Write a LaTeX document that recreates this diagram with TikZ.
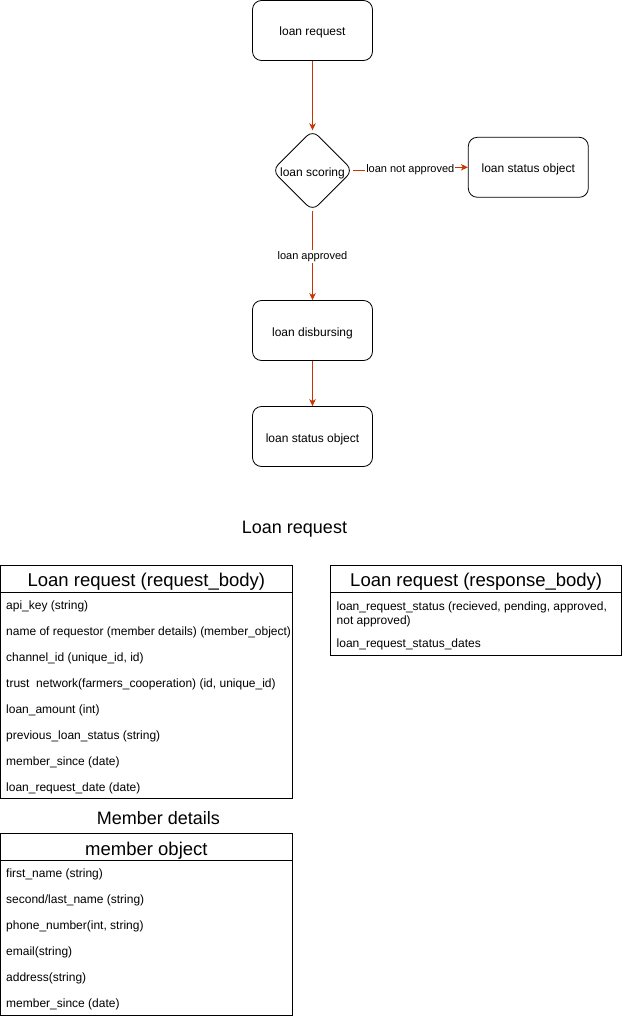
\documentclass[tikz,border=0pt]{standalone}
\usepackage{fontspec}
\setmainfont{Liberation Sans}
\usetikzlibrary{arrows.meta,calc}
\definecolor{arrc}{RGB}{199,53,0}
\begin{document}
\begin{tikzpicture}[x=1pt,y=-1pt,
  flow/.style={draw, rounded corners=9pt, minimum width=120pt, minimum height=60pt, inner sep=0pt, font=\fontsize{12}{14}\selectfont, text height=12pt, text depth=1pt, line width=0.8pt},
  arr/.style={draw=arrc, line width=0.9pt, -{Stealth[length=7pt,width=6.5pt,inset=2pt]}},
  elbl/.style={fill=white, inner sep=1pt, font=\fontsize{11}{13}\selectfont},
  row/.style={anchor=west, inner sep=0pt, font=\fontsize{12}{14}\selectfont, text height=10pt, text depth=1.5pt},
  hdr/.style={inner sep=0pt, font=\fontsize{18.5}{22}\selectfont},
  ttl/.style={inner sep=0pt, font=\fontsize{18}{22}\selectfont},
  tbl/.style={draw, line width=0.8pt}]
\useasboundingbox (0,0) rectangle (623,1019);

% flow chart
\node[flow] (req) at (312.5,30.5) {loan request};
\node[minimum width=80pt, minimum height=80pt, inner sep=0pt, font=\fontsize{12}{14}\selectfont, text height=12pt, text depth=1pt] (dia) at (312.5,170.5) {loan scoring};
\draw[line width=0.8pt, rounded corners=8pt] (dia.north) -- (dia.east) -- (dia.south) -- (dia.west) -- cycle;
\node[flow] (sR) at (528.3,167.3) {loan status object};
\node[flow] (disb) at (312.5,330.5) {loan disbursing};
\node[flow] (sB) at (312.5,436.5) {loan status object};

\draw[arr] (req) -- (dia.north);
\coordinate (jx) at (410,0);
\draw[arr] (dia.east) -- (jx |- dia.east) -- (jx |- sR.west) -- (sR.west);
\node[elbl] (lna) at (410.3,169.5) {loan not approved};
\draw[arr] (dia.south) -- (disb.north);
\node[elbl] (la) at (312.5,256.5) {loan approved};
\draw[arr] (disb) -- (sB);

% title
\node[ttl] (t1) at (294.5,529) {Loan request};

% table 1
\draw[tbl] (0.5,565.7) rectangle (292.3,798.5);
\draw[tbl] (0.5,592) -- (292.3,592);
\node[hdr] (h1) at (146.4,581.5) {Loan request (request\_body)};
\begin{scope}
\clip (0.5,592) rectangle (290.5,798.5);
\node[row] (r1) at (6,605) {api\_key (string)};
\node[row] (r2) at (6,631) {name of requestor (member details) (member\_object)};
\node[row] (r3) at (6,657) {channel\_id (unique\_id, id)};
\node[row] (r4) at (6,683) {trust\ \ network(farmers\_cooperation) (id, unique\_id)};
\node[row] (r5) at (6,709) {loan\_amount (int)};
\node[row] (r6) at (6,735) {previous\_loan\_status (string)};
\node[row] (r7) at (6,761) {member\_since (date)};
\node[row] (r8) at (6,787) {loan\_request\_date (date)};
\end{scope}

% table 2
\draw[tbl] (330.7,565.7) rectangle (621.7,655.7);
\draw[tbl] (330.7,592) -- (621.7,592);
\node[hdr] (h2) at (476.2,581.5) {Loan request (response\_body)};
\node[row] (s1) at (336.5,606.5) {loan\_request\_status (recieved, pending, approved,};
\node[row] (s1b) at (336.5,620.5) {not approved)};
\node[row] (s2) at (336.5,643.5) {loan\_request\_status\_dates};

% member details
\node[ttl] (t2) at (158.5,818.5) {Member details};
\draw[tbl] (0.5,833.3) rectangle (292.3,1015.5);
\draw[tbl] (0.5,860) -- (292.3,860);
\node[hdr] (h3) at (146.4,850.5) {member object};
\node[row] (m1) at (6,873) {first\_name (string)};
\node[row] (m2) at (6,899) {second/last\_name (string)};
\node[row] (m3) at (6,925) {phone\_number(int, string)};
\node[row] (m4) at (6,951) {email(string)};
\node[row] (m5) at (6,977) {address(string)};
\node[row] (m6) at (6,1003) {member\_since (date)};
\end{tikzpicture}
\end{document}
